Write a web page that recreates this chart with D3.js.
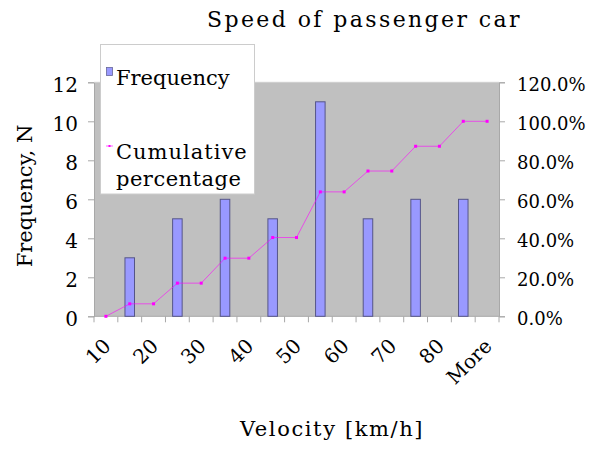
<!DOCTYPE html>
<html>
<head>
<meta charset="utf-8">
<script src="https://cdn.jsdelivr.net/npm/d3@7"></script>
<style>
  html, body { margin: 0; padding: 0; background: #ffffff; }
  svg { display: block; }
  text { font-family: "DejaVu Serif", serif; fill: #000; }
</style>
</head>
<body>
<svg id="chart" width="600" height="450"></svg>
<script>
// ---- data ----
const categories = ["10", "", "20", "", "30", "", "40", "", "50", "", "60", "", "70", "", "80", "", "More"];
const frequency  = [0, 3, 0, 5, 0, 6, 0, 5, 0, 11, 0, 5, 0, 6, 0, 6, 0];
const cumulative = [0, 6.4, 6.4, 17.0, 17.0, 29.8, 29.8, 40.4, 40.4, 63.8, 63.8, 74.5, 74.5, 87.2, 87.2, 100, 100];
const leftTicks  = [0, 2, 4, 6, 8, 10, 12];
const rightTicks = [0, 20, 40, 60, 80, 100, 120];
const titleText  = "Speed of passenger car";
const xLabel     = "Velocity [km/h]";
const yLabel     = "Frequency, N";
const legendBar  = "Frequency";
const legendLine = ["Cumulative", "percentage"];

// ---- layout ----
const svg = d3.select("#chart");
const plot = { left: 94, right: 499, top: 82.3, bottom: 316.3 };

const x = d3.scaleBand()
  .domain(d3.range(categories.length))
  .range([plot.left, plot.right])
  .padding(0);
const yL = d3.scaleLinear().domain([0, 12]).range([plot.bottom, plot.top]);
const yR = d3.scaleLinear().domain([0, 120]).range([plot.bottom, plot.top]);

const frameColor = "#a8a8a8";

// background
svg.append("rect")
  .attr("x", plot.left).attr("y", plot.top)
  .attr("width", plot.right - plot.left).attr("height", plot.bottom - plot.top)
  .attr("fill", "#c0c0c0");

// left axis
const leftAxis = d3.axisLeft(yL).tickValues(leftTicks).tickSize(6).tickPadding(10).tickFormat(d3.format("d"));
const gL = svg.append("g").attr("transform", `translate(${plot.left},0)`).call(leftAxis);
gL.select(".domain").attr("stroke", frameColor);
gL.selectAll(".tick line").attr("stroke", frameColor);
gL.selectAll(".tick text").attr("font-size", 20).attr("font-family", "DejaVu Serif").attr("fill", "#000").attr("dy", "0.45em");

// right axis
const rightAxis = d3.axisRight(yR).tickValues(rightTicks).tickSize(6).tickPadding(12).tickFormat(d => d.toFixed(1) + "%");
const gR = svg.append("g").attr("transform", `translate(${plot.right},0)`).call(rightAxis);
gR.select(".domain").attr("stroke", frameColor);
gR.selectAll(".tick line").attr("stroke", frameColor);
gR.selectAll(".tick text").attr("font-size", 18).attr("font-family", "DejaVu Serif").attr("fill", "#000").attr("dy", "0.45em");

// top frame
svg.append("line")
  .attr("x1", plot.left).attr("x2", plot.right)
  .attr("y1", plot.top).attr("y2", plot.top)
  .attr("stroke", "#cfcfcf");

// bottom axis: ticks at band boundaries
const bounds = d3.range(categories.length + 1).map(i => plot.left + i * x.bandwidth());
const gB = svg.append("g");
gB.append("line")
  .attr("x1", plot.left).attr("x2", plot.right)
  .attr("y1", plot.bottom).attr("y2", plot.bottom)
  .attr("stroke", frameColor);
gB.selectAll("line.tk").data(bounds).join("line").attr("class", "tk")
  .attr("x1", d => d).attr("x2", d => d)
  .attr("y1", plot.bottom).attr("y2", plot.bottom + 6)
  .attr("stroke", frameColor);

// x tick labels
svg.append("g").selectAll("text").data(categories.map((c, i) => ({ c, i })).filter(d => d.c !== ""))
  .join("text")
  .attr("transform", d => `translate(${x(d.i) + x.bandwidth() / 2 + 6},${plot.bottom + 31}) rotate(-45)`)
  .attr("text-anchor", "end")
  .attr("font-size", 20)
  .text(d => d.c);

// bars
const barW = x.bandwidth() * 0.4;
svg.append("g").selectAll("rect")
  .data(frequency.map((v, i) => ({ v, i })).filter(d => d.v > 0))
  .join("rect")
  .attr("x", d => x(d.i) + x.bandwidth() / 2 - barW / 2)
  .attr("y", d => yL(d.v))
  .attr("width", barW)
  .attr("height", d => yL(0) - yL(d.v))
  .attr("fill", "#9999ff")
  .attr("stroke", "#555588")
  .attr("stroke-width", 1);

// cumulative line
const line = d3.line()
  .x((d, i) => x(i) + x.bandwidth() / 2)
  .y(d => yR(d));
svg.append("path")
  .datum(cumulative)
  .attr("d", line)
  .attr("fill", "none")
  .attr("stroke", "#ff00ff")
  .attr("stroke-opacity", 0.75)
  .attr("stroke-width", 0.8);
svg.append("g").selectAll("rect")
  .data(cumulative)
  .join("rect")
  .attr("x", (d, i) => x(i) + x.bandwidth() / 2 - 1.5)
  .attr("y", d => yR(d) - 1.5)
  .attr("width", 3).attr("height", 3)
  .attr("fill", "#ff00ff");

// legend
const lg = svg.append("g");
lg.append("rect")
  .attr("x", 100.5).attr("y", 44.5).attr("width", 154).attr("height", 149.5)
  .attr("fill", "#ffffff").attr("stroke", "#cccccc");
lg.append("rect")
  .attr("x", 106.5).attr("y", 67.5).attr("width", 6).attr("height", 8)
  .attr("fill", "#9999ff").attr("stroke", "#666699").attr("stroke-width", 0.8);
lg.append("text").attr("x", 116).attr("y", 85).attr("font-size", 21).text(legendBar);
lg.append("line")
  .attr("x1", 106).attr("x2", 113).attr("y1", 146).attr("y2", 146)
  .attr("stroke", "#ff00ff").attr("stroke-opacity", 0.75).attr("stroke-width", 0.8);
lg.append("rect").attr("x", 108.5).attr("y", 145).attr("width", 2).attr("height", 2).attr("fill", "#ff00ff");
lg.append("text").attr("x", 116).attr("y", 159).attr("font-size", 21).attr("letter-spacing", 1.0).text(legendLine[0]);
lg.append("text").attr("x", 116).attr("y", 186).attr("font-size", 21).attr("letter-spacing", 0.5).text(legendLine[1]);

// title
svg.append("text").attr("x", 207).attr("y", 27).attr("font-size", 22).attr("letter-spacing", 2.4).text(titleText);

// axis titles
svg.append("text").attr("x", 240).attr("y", 436).attr("font-size", 21).attr("letter-spacing", 1.6).text(xLabel);
svg.append("text")
  .attr("transform", "translate(32,196) rotate(-90)")
  .attr("text-anchor", "middle")
  .attr("font-size", 21)
  .text(yLabel);
</script>
</body>
</html>
